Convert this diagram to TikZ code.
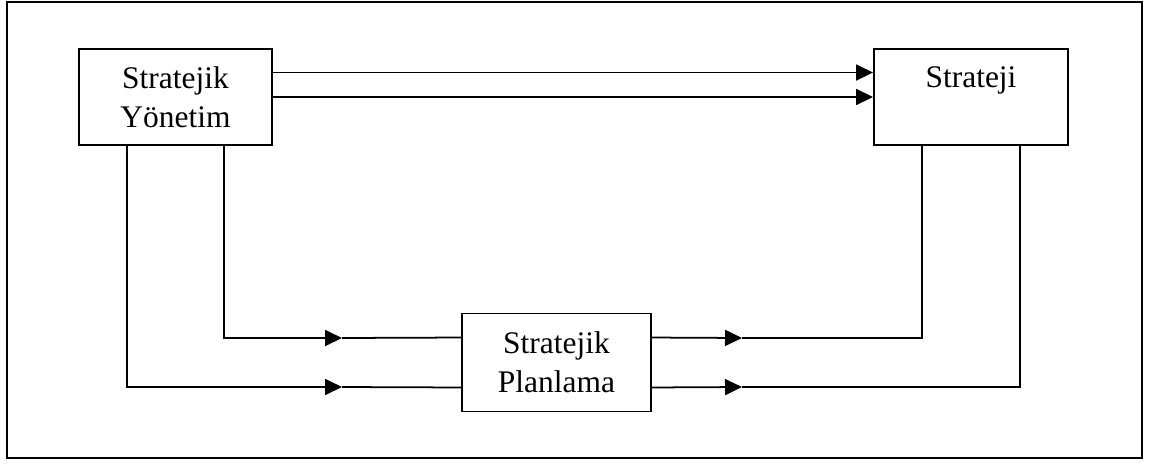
\documentclass[tikz,border=0pt]{standalone}
\usepackage{fontspec}
\setmainfont{Liberation Serif}
\usetikzlibrary{arrows.meta,calc}
\begin{document}
\begin{tikzpicture}[x=0.02cm,y=-0.02cm,line width=1pt,
  kutu/.style={draw,line width=1.1pt,align=center,inner sep=0pt,
    font=\fontsize{17.9}{22.2}\selectfont},
  ok/.style={-{Triangle[length=0.34cm,width=0.32cm]}}]
\useasboundingbox (0,0) rectangle (1151,463);
\draw[line width=1.1pt] (7,2) rectangle (1142,458);
% the three boxes
\node[kutu,minimum width=193*0.02cm,minimum height=96*0.02cm] (sy) at (175.5,97) {Stratejik\\Yönetim};
\node[kutu,minimum width=194*0.02cm,minimum height=96*0.02cm] (st) at (971,97) {Strateji\\\mbox{}};
\node[kutu,minimum width=189*0.02cm,minimum height=98*0.02cm] (sp) at (556.5,362.5) {Stratejik\\Planlama};
% top arrows
\draw[ok] ($(sy.north east)!0.25!(sy.south east)$) -- ($(st.north west)!0.25!(st.south west)$);
\draw[ok] (sy.east) -- (st.west);
% arrow tips half way
\coordinate (l1) at (342,338);
\coordinate (l2) at (342,387);
\coordinate (r1) at (742,338);
\coordinate (r2) at (742,387);
\draw[ok] ($(sy.south west)!0.75!(sy.south east)$) |- (l1);
\draw (l1) -- ($(sp.north west)!0.25!(sp.south west)$);
\draw[ok] ($(sy.south west)!0.25!(sy.south east)$) |- (l2);
\draw (l2) -- ($(sp.north west)!0.75!(sp.south west)$);
\draw[ok] ($(sp.north east)!0.25!(sp.south east)$) -- (r1);
\draw (r1) -| ($(st.south west)!0.25!(st.south east)$);
\draw[ok] ($(sp.north east)!0.75!(sp.south east)$) -- (r2);
\draw (r2) -| ($(st.south west)!0.75!(st.south east)$);
\end{tikzpicture}
\end{document}
